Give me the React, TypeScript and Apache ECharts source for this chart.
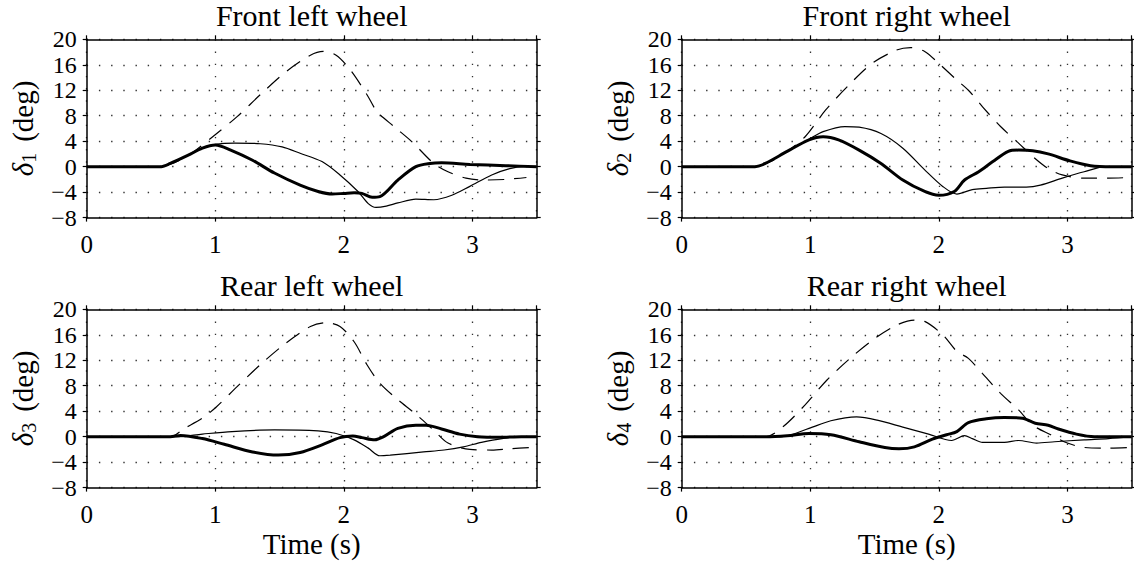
import React, { useEffect, useRef } from "react";
import * as echarts from "echarts";

type P = [number, number];

// Front left wheel
const flRef: P[] = [[0,0],[0.55,0],[0.65,0.4],[0.75,1.3],[0.85,2.6],[0.98,4.7],[1.17,7.85],[1.35,11.3],[1.55,14.9],[1.74,17.5],[1.84,18.1],[1.94,17.5],[2.05,15.2],[2.18,11.3],[2.26,8.6],[2.39,6.3],[2.53,3.9],[2.7,0.5],[2.81,-0.8],[2.95,-1.8],[3.09,-2.1],[3.26,-2.0],[3.42,-1.7]];
const flThin: P[] = [[0,0],[0.58,0],[0.65,0.5],[0.79,1.8],[0.9,2.9],[1.0,3.5],[1.15,3.7],[1.35,3.6],[1.52,3.1],[1.66,2.1],[1.83,0.8],[1.97,-1.3],[2.11,-3.9],[2.19,-5.8],[2.25,-6.4],[2.33,-6.2],[2.42,-5.7],[2.56,-5.1],[2.7,-5.2],[2.84,-4.5],[2.98,-3.1],[3.15,-1.3],[3.29,-0.3],[3.4,0],[3.5,0]];
const flThick: P[] = [[0,0],[0.58,0],[0.65,0.5],[0.79,1.8],[0.9,2.9],[1.0,3.4],[1.12,2.6],[1.29,1.0],[1.46,-1.0],[1.66,-2.9],[1.8,-3.9],[1.91,-4.3],[2.0,-4.2],[2.08,-4.1],[2.14,-4.2],[2.22,-4.8],[2.28,-4.7],[2.42,-2.1],[2.56,0],[2.67,0.5],[2.76,0.6],[2.98,0.35],[3.26,0.15],[3.5,0]];

// Front right wheel
const frRef: P[] = [[0,0],[0.57,0],[0.7,0.9],[0.82,2.4],[0.96,4.7],[1.12,8.9],[1.29,12.6],[1.48,16.2],[1.67,18.3],[1.78,18.7],[1.89,18.1],[2.0,16.2],[2.14,13.6],[2.23,12.0],[2.34,9.4],[2.48,6.3],[2.62,3.7],[2.73,1.6],[2.85,-0.3],[2.96,-1.3],[3.13,-1.8],[3.32,-1.8],[3.49,-1.7]];
const frThin: P[] = [[0,0],[0.57,0],[0.65,0.5],[0.82,2.4],[0.99,4.3],[1.1,5.5],[1.27,6.3],[1.38,6.2],[1.55,5.2],[1.72,2.9],[1.89,-0.5],[2.03,-3.1],[2.14,-4.3],[2.26,-3.6],[2.37,-3.4],[2.51,-3.2],[2.68,-3.2],[2.79,-2.9],[2.96,-1.8],[3.13,-0.8],[3.3,0],[3.5,0]];
const frThick: P[] = [[0,0],[0.57,0],[0.65,0.5],[0.82,2.4],[0.99,4.2],[1.1,4.7],[1.22,4.2],[1.38,2.6],[1.55,0.5],[1.72,-2.1],[1.89,-3.9],[2.0,-4.5],[2.12,-3.9],[2.2,-2.1],[2.31,-0.8],[2.42,0.8],[2.54,2.4],[2.62,2.6],[2.73,2.5],[2.85,2.0],[3.02,0.9],[3.18,0.15],[3.35,0],[3.5,0]];

// Rear left wheel
const rlRef: P[] = [[0,0],[0.65,0],[0.76,1.3],[0.9,2.9],[1.01,4.7],[1.17,7.85],[1.35,11.3],[1.55,14.7],[1.74,17.3],[1.86,17.9],[1.97,17.3],[2.08,14.9],[2.18,11.3],[2.28,8.4],[2.42,5.8],[2.55,3.7],[2.7,1.0],[2.81,-1.0],[2.98,-2.0],[3.15,-2.1],[3.29,-1.9],[3.46,-1.7]];
const rlThin: P[] = [[0,0],[0.7,0],[0.9,0.4],[1.13,0.8],[1.46,1.05],[1.8,0.9],[1.94,0.5],[2.08,-0.5],[2.19,-1.8],[2.28,-3.0],[2.36,-2.9],[2.62,-2.4],[2.78,-2.1],[2.93,-1.6],[3.07,-0.9],[3.23,-0.3],[3.38,0],[3.5,0]];
const rlThick: P[] = [[0,0],[0.65,0],[0.73,0.2],[0.9,-0.3],[1.07,-1.2],[1.29,-2.4],[1.49,-2.9],[1.66,-2.5],[1.83,-1.3],[1.97,-0.15],[2.07,0.1],[2.14,-0.15],[2.24,-0.5],[2.31,0],[2.42,1.3],[2.56,1.8],[2.64,1.8],[2.76,1.2],[2.9,0.4],[3.04,0],[3.21,-0.1],[3.38,0],[3.5,0]];

// Rear right wheel
const rrRef: P[] = [[0,0],[0.65,0],[0.79,1.6],[0.96,5.0],[1.13,8.9],[1.31,12.3],[1.5,15.4],[1.67,17.5],[1.81,18.3],[1.89,18.1],[2.03,16.0],[2.14,13.4],[2.23,12.3],[2.34,9.9],[2.48,6.8],[2.62,4.2],[2.73,1.8],[2.87,0.3],[3.0,-1.0],[3.13,-1.7],[3.32,-1.8],[3.49,-1.7]];
const rrThin: P[] = [[0,0],[0.78,0],[0.99,1.3],[1.16,2.5],[1.36,3.1],[1.52,2.6],[1.72,1.5],[1.92,0.4],[2.1,-0.6],[2.2,0.15],[2.26,-0.3],[2.34,-0.9],[2.51,-0.9],[2.62,-0.6],[2.76,-1.0],[2.9,-0.8],[3.13,-0.5],[3.32,-0.3],[3.49,0]];
const rrThick: P[] = [[0,0],[0.65,0],[0.82,0.15],[0.99,0.5],[1.16,0.3],[1.38,-0.8],[1.58,-1.7],[1.69,-1.9],[1.81,-1.6],[1.95,-0.4],[2.06,0.3],[2.14,0.8],[2.23,2.2],[2.37,2.8],[2.51,3.0],[2.65,2.9],[2.75,2.1],[2.85,1.8],[2.93,1.2],[3.07,0.4],[3.21,0],[3.5,0]];

const titles = ["Front left wheel", "Front right wheel", "Rear left wheel", "Rear right wheel"];
const subs = ["1", "2", "3", "4"];
const xTitle = "Time (s)";
const X_MIN = 0, X_MAX = 3.5, X_STEP = 1;
const Y_MIN = -8, Y_MAX = 20, Y_STEP = 4;

const FONT = "'Liberation Serif', 'Times New Roman', serif";

export default function App() {
  const ref = useRef<HTMLDivElement>(null);
  useEffect(() => {
    if (!ref.current) return;
    const chart = echarts.init(ref.current, undefined, { renderer: "svg" });
    const data = [
      [flRef, flThin, flThick],
      [frRef, frThin, frThick],
      [rlRef, rlThin, rlThick],
      [rrRef, rrThin, rrThick],
    ];
    const lefts = [86.7, 681.7, 86.7, 681.7];
    const tops = [39.3, 39.3, 309.3, 309.3];
    const W = 450, H = 178.3;
    const axisLine = { show: true, onZero: false, lineStyle: { color: "#000", width: 1.5 } };
    const axisTick = { show: true, length: 4, lineStyle: { color: "#000", width: 1.2 } };
    const split = { show: true, lineStyle: { color: "#333", width: 1.3, type: [1.4, 10.8] } };
    const fmt = (v: number) => (v < 0 ? "\u2212" + Math.abs(v) : String(v));

    const grid: any[] = [];
    const xAxis: any[] = [];
    const yAxis: any[] = [];
    const series: any[] = [];
    const title: any[] = [];
    for (let i = 0; i < 4; i++) {
      grid.push({ left: lefts[i], top: tops[i], width: W, height: H, containLabel: false });
      title.push({
        text: titles[i], left: lefts[i] + W / 2, top: tops[i] - 39.3, textAlign: "center", padding: 0,
        textStyle: { fontFamily: FONT, fontSize: 30, fontWeight: "normal", color: "#000" },
      });
      xAxis.push({
        type: "value", gridIndex: i, position: "bottom", min: X_MIN, max: X_MAX, interval: X_STEP,
        axisLine, axisTick,
        axisLabel: { margin: 14, fontFamily: FONT, fontSize: 25, color: "#000", showMaxLabel: false, formatter: fmt },
        splitLine: split,
        name: i >= 2 ? xTitle : "", nameLocation: "middle", nameGap: 42,
        nameTextStyle: { fontFamily: FONT, fontSize: 29, color: "#000" },
      });
      xAxis.push({
        type: "value", gridIndex: i, position: "top", min: X_MIN, max: X_MAX, interval: X_STEP,
        axisLine, axisTick, axisLabel: { show: false }, splitLine: { show: false },
      });
      yAxis.push({
        type: "value", gridIndex: i, position: "left", min: Y_MIN, max: Y_MAX, interval: Y_STEP,
        axisLine, axisTick,
        axisLabel: { margin: 10, fontFamily: FONT, fontSize: 24, lineHeight: 22, color: "#000", formatter: fmt, showMinLabel: true, showMaxLabel: true, hideOverlap: false },
        splitLine: split,
        name: `{i|δ}{s|${subs[i]}}{n|(deg)}`, nameLocation: "middle", nameGap: 48,
        nameTextStyle: {
          fontFamily: FONT, fontSize: 29, color: "#000",
          rich: {
            i: { fontFamily: FONT, fontSize: 29, fontStyle: "italic", color: "#000", lineHeight: 31 },
            s: { fontFamily: FONT, fontSize: 20, color: "#000", verticalAlign: "bottom", lineHeight: 20 },
            n: { fontFamily: FONT, fontSize: 29, color: "#000", lineHeight: 31, padding: [0, 0, 0, 11] },
          },
        },
      });
      yAxis.push({
        type: "value", gridIndex: i, position: "right", min: Y_MIN, max: Y_MAX, interval: Y_STEP,
        axisLine, axisTick, axisLabel: { show: false }, splitLine: { show: false },
      });
      const [r, thin, thick] = data[i];
      const base = { type: "line", xAxisIndex: i * 2, yAxisIndex: i * 2, showSymbol: false, symbol: "none", smooth: 0.3, silent: true };
      series.push({ ...base, data: r, lineStyle: { color: "#000", width: 1.2, type: [16, 10] } });
      series.push({ ...base, data: thin, lineStyle: { color: "#000", width: 1.2 } });
      series.push({ ...base, data: thick, lineStyle: { color: "#000", width: 3 } });
    }
    chart.setOption({ animation: false, backgroundColor: "#fff", title, grid, xAxis, yAxis, series });
    return () => chart.dispose();
  }, []);
  return <div ref={ref} style={{ position: "absolute", left: 0, top: 0, width: 1134, height: 566 }} />;
}
